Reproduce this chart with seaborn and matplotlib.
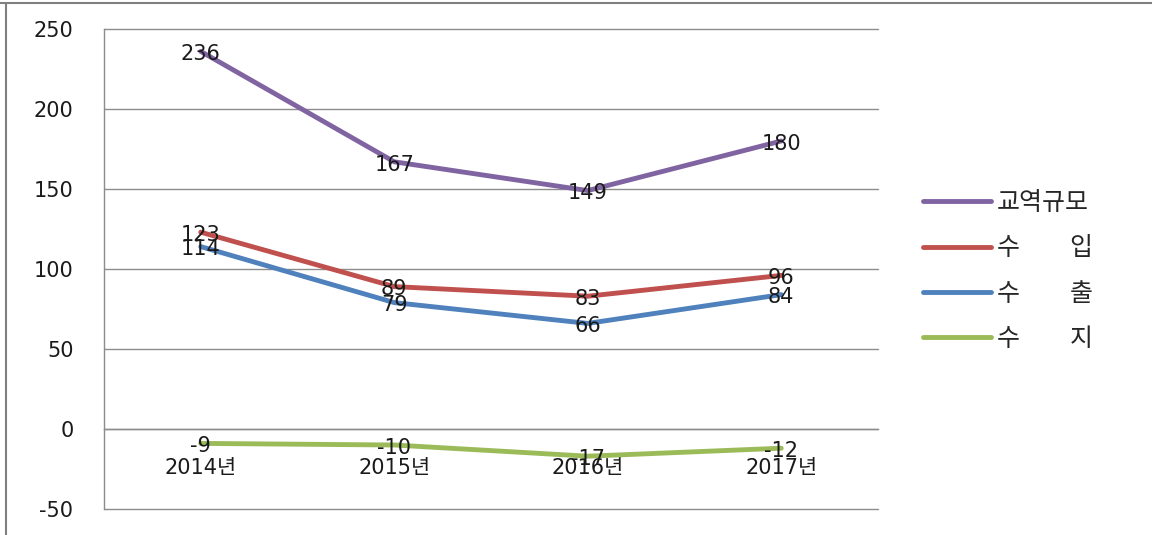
import matplotlib
matplotlib.use("Agg")
import matplotlib.pyplot as plt
import seaborn as sns
import pandas as pd
from matplotlib.lines import Line2D

# ---- data ----
years = ["2014년", "2015년", "2016년", "2017년"]
series_names = ["교역규모", "수\u3000\u3000입", "수\u3000\u3000출", "수\u3000\u3000지"]
trade = [236, 167, 149, 180]
imports = [123, 89, 83, 96]
exports = [114, 79, 66, 84]
balance = [-9, -10, -17, -12]
y_ticks = [-50, 0, 50, 100, 150, 200, 250]
colors = ["#8064A2", "#C0504D", "#4F81BD", "#9BBB59"]

values = [trade, imports, exports, balance]
rows = []
for name, vals in zip(series_names, values):
    for y, v in zip(years, vals):
        rows.append({"year": y, "value": v, "series": name})
df = pd.DataFrame(rows)

sns.set_theme(style="white")
plt.rcParams["font.family"] = ["DejaVu Sans", "Noto Sans CJK KR"]

fig = plt.figure(figsize=(11.52, 5.35), dpi=100)
ax = fig.add_axes([104 / 1152, 1 - 509 / 535, (878 - 104) / 1152, (509 - 29) / 535])

sns.lineplot(data=df, x="year", y="value", hue="series", hue_order=series_names,
             palette=colors, sort=False, linewidth=3.5, ax=ax, legend=True)

# data labels
for vals in values:
    for i, v in enumerate(vals):
        ax.annotate(str(v), (i, v), xytext=(0, -2), textcoords="offset points",
                    ha="center", va="center", fontsize=15, color="#1a1a1a")

grey = "#8c8c8c"
ax.set_xlim(-0.5, 3.5)
ax.set_ylim(-50, 250)
ax.set_yticks(y_ticks)
ax.set_yticklabels([str(t) for t in y_ticks])
ax.set_xticks(range(len(years)))
ax.set_xticklabels(years)
ax.set_xticks([-0.5, 0.5, 1.5, 2.5, 3.5], minor=True)
ax.tick_params(axis="both", which="major", labelsize=15, labelcolor="#1a1a1a")
ax.tick_params(axis="x", which="major", length=0, pad=21)
ax.tick_params(axis="x", which="minor", length=6, width=1, color=grey, direction="out")
ax.tick_params(axis="y", which="major", length=6, width=1, color=grey, direction="out", pad=16)
ax.set_xlabel("")
ax.set_ylabel("")
ax.grid(axis="y", color=grey, linewidth=1)
ax.grid(axis="x", visible=False)
for gl in ax.get_ygridlines():
    gl.set_clip_on(False)
for s in ["top", "right"]:
    ax.spines[s].set_visible(False)
ax.spines["bottom"].set_position(("data", 0))
ax.spines["bottom"].set_color(grey)
ax.spines["left"].set_color(grey)
ax.spines["bottom"].set_linewidth(1)
ax.spines["left"].set_linewidth(1)

handles, labels = ax.get_legend_handles_labels()
leg = ax.legend(handles, labels, loc="center left", bbox_to_anchor=(913 / 1152, 1 - 271 / 535),
                bbox_transform=fig.transFigure, frameon=False, fontsize=18,
                handlelength=2.7, handletextpad=0.25, labelspacing=0.85, borderaxespad=0)
for line in leg.get_lines():
    line.set_linewidth(3.5)

# outer frame lines (top and left)
fig.add_artist(Line2D([0, 1], [1 - 3 / 535, 1 - 3 / 535], transform=fig.transFigure,
                      color="#808080", linewidth=1.5))
fig.add_artist(Line2D([6 / 1152, 6 / 1152], [0, 1 - 3 / 535], transform=fig.transFigure,
                      color="#808080", linewidth=1.5))

fig.savefig("out.png", dpi=100)
